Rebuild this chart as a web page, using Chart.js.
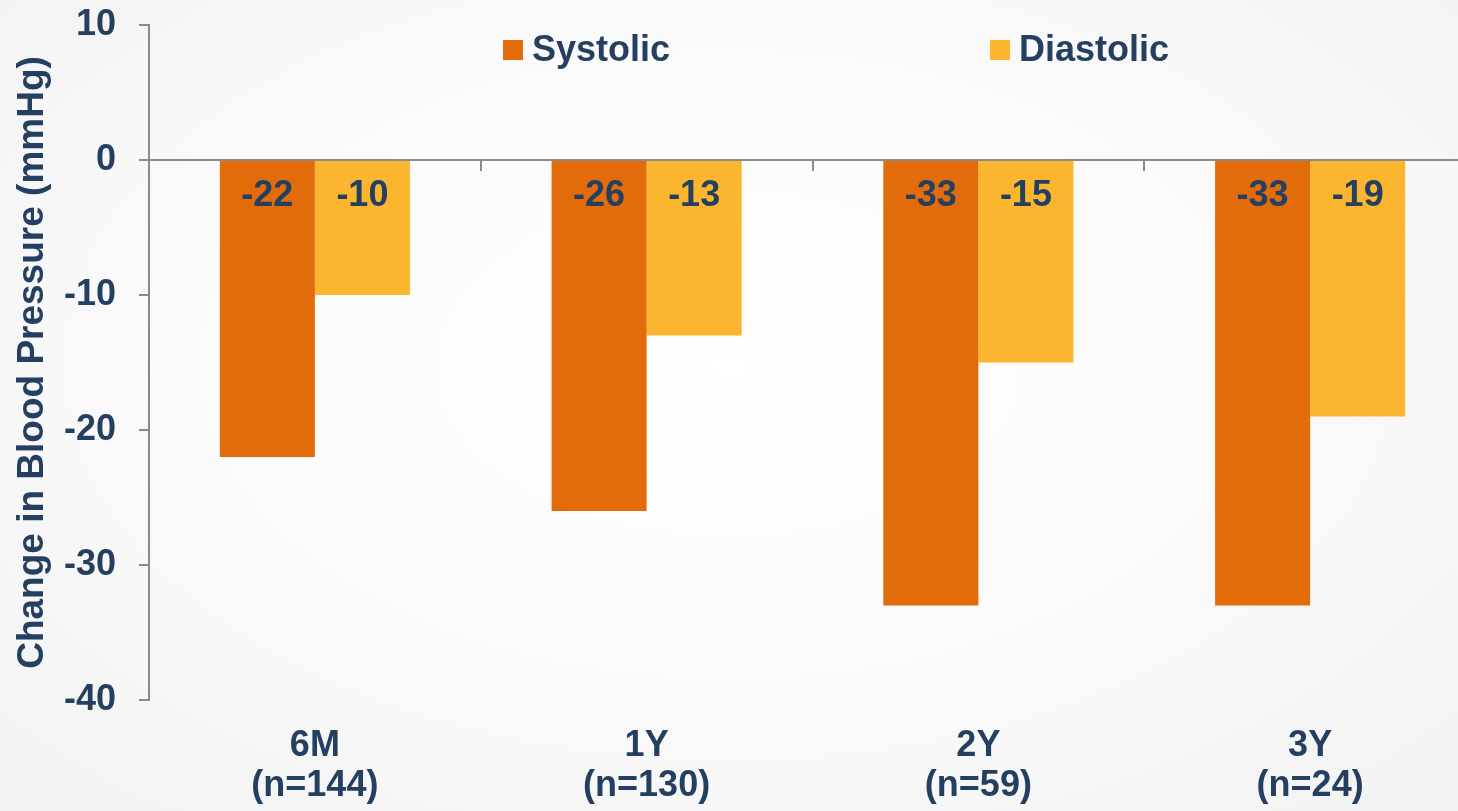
<!DOCTYPE html>
<html>
<head>
<meta charset="utf-8">
<script src="https://cdn.jsdelivr.net/npm/chart.js@4"></script>
<style>
  html, body { margin: 0; padding: 0; overflow: hidden; }
  body {
    width: 1458px; height: 811px;
    background: radial-gradient(ellipse 75% 80% at 50% 45%, #ffffff 0%, #fbfbfb 45%, #f1f1f1 100%);
  }
  #wrap { position: relative; width: 1480px; height: 811px; }
</style>
</head>
<body>
<div id="wrap"><canvas id="bp"></canvas></div>
<script>
// Mean change in blood pressure from baseline, by follow-up visit
const categories = [['6M', '(n=144)'], ['1Y', '(n=130)'], ['2Y', '(n=59)'], ['3Y', '(n=24)']];
const systolic = [-22, -26, -33, -33];
const diastolic = [-10, -13, -15, -19];
const yTicks = [10, 0, -10, -20, -30, -40];

const NAVY = '#243F60';
const AXIS_GREY = '#8A8A8A';
const FONT = '"Liberation Sans", Arial, Helvetica, sans-serif';

// Values written inside each bar, just under the zero line
const barValueLabels = {
  id: 'barValueLabels',
  afterDatasetsDraw(chart) {
    const ctx = chart.ctx;
    const zeroY = chart.scales.y.getPixelForValue(0);
    ctx.save();
    ctx.font = 'bold 36px ' + FONT;
    ctx.fillStyle = NAVY;
    ctx.textAlign = 'center';
    ctx.textBaseline = 'middle';
    chart.data.datasets.forEach((ds, di) => {
      chart.getDatasetMeta(di).data.forEach((bar, i) => {
        ctx.fillText(String(ds.data[i]), bar.x, zeroY + 36);
      });
    });
    ctx.restore();
  }
};

// Legend row across the top of the plot
const topLegend = {
  id: 'topLegend',
  afterDraw(chart) {
    const ctx = chart.ctx;
    const slots = [503, 990];
    ctx.save();
    ctx.font = 'bold 36px ' + FONT;
    ctx.textAlign = 'left';
    ctx.textBaseline = 'middle';
    chart.data.datasets.forEach((ds, i) => {
      const x = slots[i];
      ctx.fillStyle = ds.backgroundColor;
      ctx.fillRect(x, 40, 20, 20);
      ctx.fillStyle = NAVY;
      ctx.fillText(ds.label, x + 29, 51);
    });
    ctx.restore();
  }
};

new Chart(document.getElementById('bp'), {
  type: 'bar',
  data: {
    labels: categories,
    datasets: [
      { label: 'Systolic', data: systolic, backgroundColor: '#E36C0A' },
      { label: 'Diastolic', data: diastolic, backgroundColor: '#FBB52F' }
    ]
  },
  options: {
    responsive: true,
    maintainAspectRatio: false,
    animation: false,
    categoryPercentage: 0.573,
    barPercentage: 1.0,
    layout: { padding: { top: 25, right: 4, bottom: 0, left: 0 } },
    plugins: {
      legend: { display: false },
      tooltip: { enabled: false }
    },
    scales: {
      x: {
        position: 'bottom',
        offset: true,
        border: { display: false },
        grid: { display: false, drawTicks: false },
        ticks: {
          color: NAVY,
          font: { family: FONT, size: 36, weight: 'bold', lineHeight: 40 / 36 },
          padding: 26,
          maxRotation: 0
        },
        afterFit(scale) { scale.height = 111; scale.paddingLeft = 0; scale.paddingRight = 0; }
      },
      xZero: {
        type: 'category',
        axis: 'x',
        labels: categories,
        position: { y: 0 },
        offset: true,
        border: { display: true, color: AXIS_GREY, width: 2 },
        grid: { display: true, drawOnChartArea: false, drawTicks: true, tickLength: 10, color: AXIS_GREY, lineWidth: 2, offset: true },
        ticks: { display: false },
        afterFit(scale) { scale.height = 0; scale.paddingTop = 0; scale.paddingBottom = 0; scale.paddingLeft = 0; scale.paddingRight = 0; }
      },
      y: {
        min: -40,
        max: 10,
        afterBuildTicks(scale) { scale.ticks = yTicks.map(v => ({ value: v })); },
        border: { display: true, color: AXIS_GREY, width: 2 },
        grid: { drawOnChartArea: false, drawTicks: true, tickLength: 10, color: AXIS_GREY, lineWidth: 2 },
        ticks: {
          color: NAVY,
          font: { family: FONT, size: 36, weight: 'bold' },
          padding: 23
        },
        title: {
          display: true,
          text: 'Change in Blood Pressure (mmHg)',
          color: NAVY,
          font: { family: FONT, size: 37, weight: 'bold', lineHeight: 1.2 },
          padding: { top: 11, bottom: 0 }
        },
        afterFit(scale) { scale.width = 149; scale.paddingTop = 0; scale.paddingBottom = 0; }
      }
    }
  },
  plugins: [barValueLabels, topLegend]
});
</script>
</body>
</html>
